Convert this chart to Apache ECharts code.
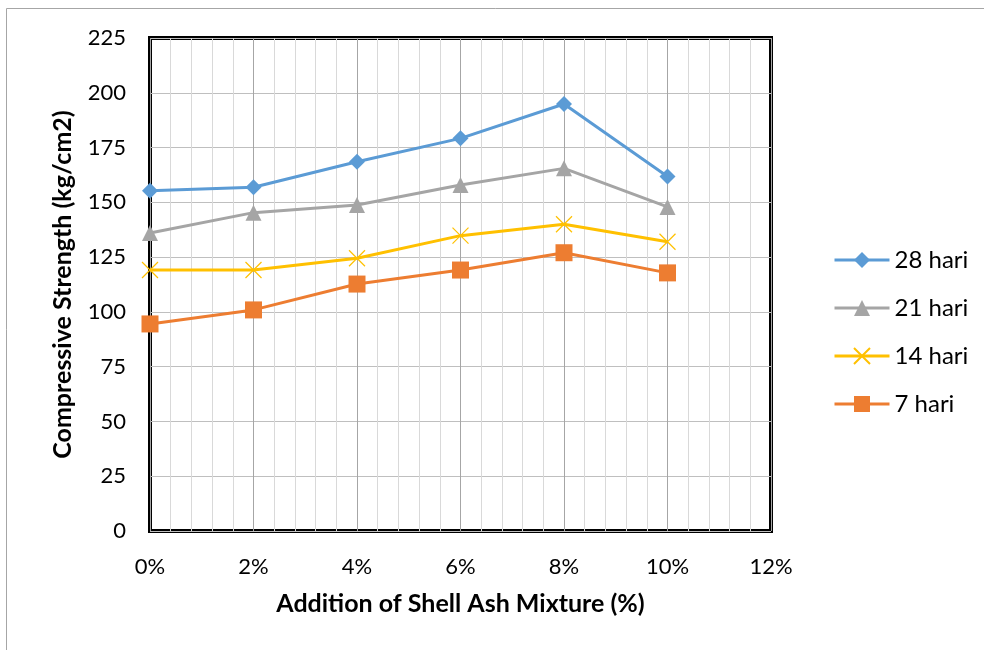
<!DOCTYPE html>
<html>
<head>
<meta charset="utf-8">
<script src="https://cdn.jsdelivr.net/npm/echarts@6/dist/echarts.min.js"></script>
<style>
  html, body { margin: 0; padding: 0; background: #fff; }
  #chart { width: 984px; height: 650px; }
</style>
</head>
<body>
<div id="chart"></div>
<script>
// Shell ash content (%) on the horizontal axis
const mixPercent = [0, 2, 4, 6, 8, 10];

// Compressive strength (kg/cm2) by curing age
const seriesNames = ['28 hari', '21 hari', '14 hari', '7 hari'];
const strength28 = [155.3, 156.9, 168.5, 179.2, 194.9, 161.8];
const strength21 = [136.0, 145.3, 148.8, 157.9, 165.5, 147.9];
const strength14 = [119.1, 119.1, 124.5, 134.8, 140.0, 132.0];
const strength7  = [94.5, 100.9, 112.7, 119.1, 127.0, 117.8];

const FONT = 'Lato, "Open Sans", sans-serif';

function pairs(values) {
  return mixPercent.map((x, i) => [x, values[i]]);
}

const crossPath = 'path://M0,0L10,10M10,0L0,10';

const chart = echarts.init(document.getElementById('chart'), null, { renderer: 'canvas' });

chart.setOption({
  animation: false,
  backgroundColor: '#ffffff',
  graphic: [{
    type: 'rect',
    shape: { x: 6.5, y: 8.5, width: 1000, height: 700 },
    style: { fill: 'none', stroke: '#a6a6a6', lineWidth: 1 },
    silent: true,
    z: -10
  }],
  grid: {
    left: 150, right: 213, top: 38, bottom: 119,
    show: true,
    borderColor: '#000000',
    borderWidth: 4,
    backgroundColor: 'transparent'
  },
  legend: {
    orient: 'vertical',
    left: 828,
    top: 243,
    itemWidth: 55,
    itemHeight: 20,
    itemGap: 24,
    lineStyle: { width: 3 },
    textStyle: { fontFamily: FONT, fontSize: 24, color: '#000' },
    data: seriesNames
  },
  xAxis: {
    type: 'value',
    min: 0, max: 12, interval: 2,
    name: 'Addition of Shell Ash Mixture (%)',
    nameLocation: 'middle',
    nameGap: 60,
    nameTextStyle: { fontFamily: FONT, fontSize: 25, fontWeight: 'bold', color: '#000' },
    axisLine: { show: false },
    axisTick: { show: false },
    axisLabel: {
      margin: 25,
      fontFamily: FONT, fontSize: 22, color: '#000',
      formatter: v => v + '%'
    },
    splitLine: { show: true, lineStyle: { color: '#a6a6a6', width: 1 } },
    minorTick: { show: false, splitNumber: 5 },
    minorSplitLine: { show: true, lineStyle: { color: '#d9d9d9', width: 1 } }
  },
  yAxis: {
    type: 'value',
    min: 0, max: 225, interval: 25,
    name: 'Compressive Strength (kg/cm2)',
    nameLocation: 'middle',
    nameGap: 75,
    nameTextStyle: { fontFamily: FONT, fontSize: 25, fontWeight: 'bold', color: '#000' },
    axisLine: { show: false },
    axisTick: { show: false },
    axisLabel: { margin: 24, fontFamily: FONT, fontSize: 22, color: '#000' },
    splitLine: { show: true, lineStyle: { color: '#bfbfbf', width: 1 } }
  },
  series: [
    {
      name: seriesNames[0], type: 'line', data: pairs(strength28),
      symbol: 'diamond', symbolSize: 16,
      lineStyle: { color: '#5b9bd5', width: 3 },
      itemStyle: { color: '#5b9bd5' },
      z: 4
    },
    {
      name: seriesNames[1], type: 'line', data: pairs(strength21),
      symbol: 'triangle', symbolSize: 16,
      lineStyle: { color: '#a5a5a5', width: 3 },
      itemStyle: { color: '#a5a5a5' },
      z: 3
    },
    {
      name: seriesNames[2], type: 'line', data: pairs(strength14),
      symbol: crossPath, symbolSize: 16,
      lineStyle: { color: '#ffc000', width: 3 },
      itemStyle: { color: '#ffc000', borderColor: '#ffc000', borderWidth: 1.2 },
      z: 2
    },
    {
      name: seriesNames[3], type: 'line', data: pairs(strength7),
      symbol: 'rect', symbolSize: 17,
      lineStyle: { color: '#ed7d31', width: 3 },
      itemStyle: { color: '#ed7d31' },
      z: 1
    }
  ]
});
</script>
</body>
</html>
